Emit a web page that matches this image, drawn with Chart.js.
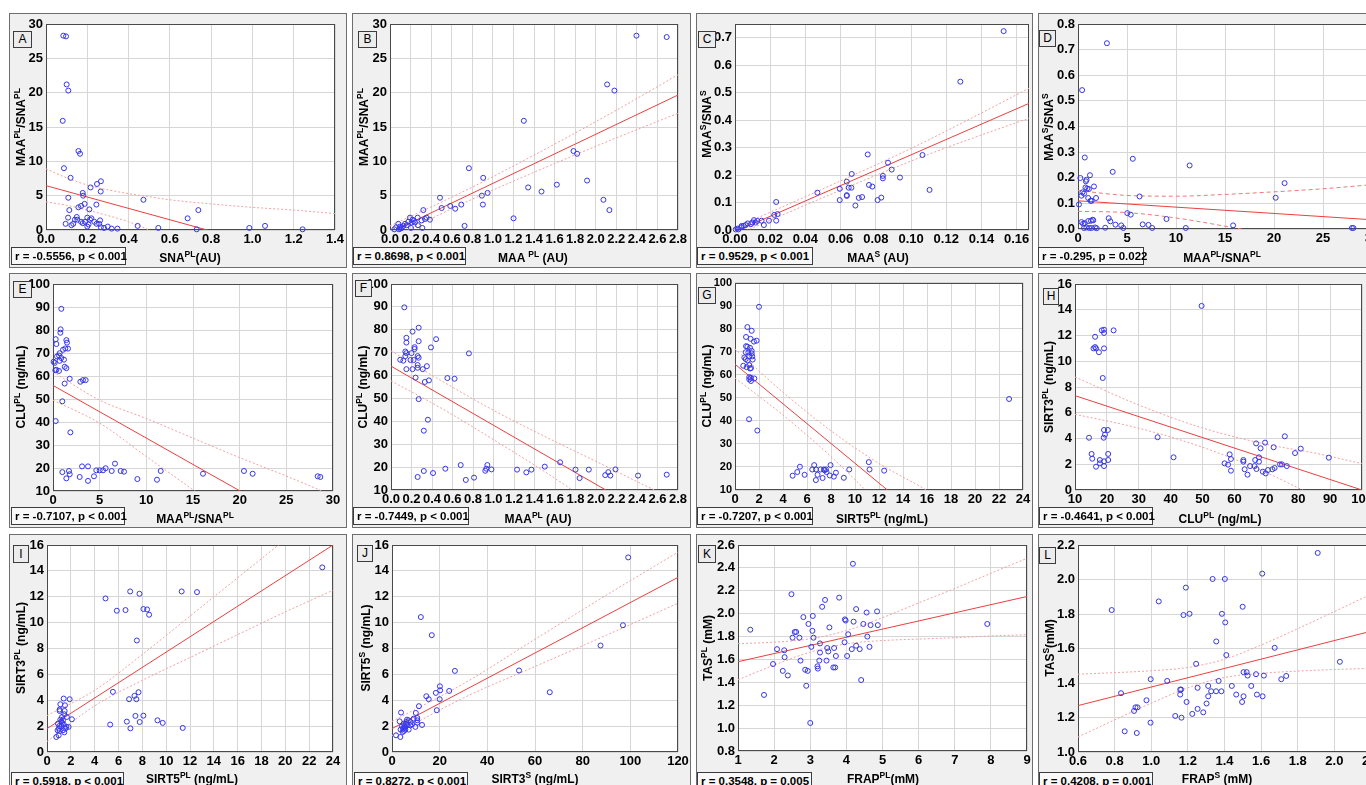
<!DOCTYPE html>
<html>
<head>
<meta charset="utf-8">
<title>Correlations</title>
<script src="https://cdn.jsdelivr.net/npm/chart.js@4.4.1/dist/chart.umd.min.js"></script>
<style>
  html, body { margin: 0; padding: 0; background: #fff; width: 1366px; height: 785px; overflow: hidden; }
  body { position: relative; font-family: "Liberation Sans", Arial, sans-serif; color: #000; }
  .panel { position: absolute; background: #f0f0f0; border: 1px solid #6e6e6e; box-sizing: border-box; }
  canvas { position: absolute; }
  .tag { position: absolute; box-sizing: border-box; border: 1px solid #3c3c3c; background: #ececec; font-size: 12px; text-align: center; }
  .rbox { position: absolute; box-sizing: border-box; height: 18px; border: 1px solid #3c3c3c; background: #f9f9f9; font-weight: bold; font-size: 11.5px; line-height: 16px; padding-left: 3px; white-space: nowrap; }
  .xt, .yt { position: absolute; font-weight: bold; font-size: 12px; line-height: 14px; white-space: nowrap; }
  .xt { transform: translateX(-50%); }
  .yt { transform: translate(-50%, -50%) rotate(-90deg); }
  sup { font-size: 8.5px; vertical-align: 0; position: relative; top: -5px; }
</style>
</head>
<body>
<script>
// ---- A: MAA/SNA (PL) vs SNA (PL)
var aX = [0.084,0.097,0.100,0.108,0.081,0.087,0.157,0.165,0.119,0.108,0.113,0.107,0.095,0.123,0.132,0.140,0.149,0.152,0.157,0.170,0.178,0.180,0.187,0.170,0.178,0.189,0.200,0.200,0.206,0.210,0.213,0.220,0.216,0.234,0.245,0.244,0.247,0.262,0.265,0.266,0.258,0.266,0.281,0.299,0.318,0.346,0.444,0.472,0.544,0.686,0.730,0.738,0.985,1.061,1.243];
var aY = [28.3,28.2,21.2,20.3,15.9,9.0,11.5,11.1,7.6,4.7,2.9,1.8,0.9,0.7,0.9,1.5,1.9,1.5,3.3,3.5,5.4,5.0,3.8,1.2,1.0,1.2,1.8,0.5,0.8,3.0,1.5,1.7,6.2,1.2,0.9,3.7,6.7,1.4,5.6,7.1,0.9,0.4,0.3,0.5,0.2,0.2,0.6,4.4,0.3,1.7,0.1,2.9,0.3,0.6,0.1];
var aFitX = [0, 1.4], aFitY = [6.46, -5.13];
var aBandX = [0,0.1,0.2,0.3,0.4,0.5,0.6,0.8,1.0,1.2,1.4];
var aUp = [8.9,7.6,6.55,5.85,5.3,4.85,4.4,3.8,3.3,2.9,2.4];
var aLo = [4.1,3.6,2.9,2.1,1.2,0.0,-1.4,-4.3,-7.3,-10.4,-13.5];
var aXTicks = ['0.0','0.2','0.4','0.6','0.8','1.0','1.2','1.4'];
var aYTicks = ['0','5','10','15','20','25','30'];

// ---- B: MAA/SNA (PL) vs MAA (PL)
var bX = [2.396,2.690,2.111,2.182,1.301,1.784,1.819,0.767,0.906,1.916,1.622,1.343,1.473,0.949,0.893,0.486,2.075,0.693,0.903,0.586,0.502,0.634,0.324,2.133,1.201,0.725,0.194,0.269,0.356,0.388,0.220,0.210,0.178,0.146,0.081,0.097,0.314,0.204,0.272,0.042,0.087,0.113,0.162,0.243,0.307,0.340,0.060,0.100,0.130,0.230];
var bY = [28.3,28.1,21.2,20.3,15.9,11.5,11.1,9.0,7.6,7.2,6.6,6.2,5.6,5.4,5.0,4.7,4.4,3.7,3.7,3.5,3.2,3.1,2.9,2.9,1.7,0.6,1.8,1.8,1.8,1.5,1.5,1.1,1.2,0.9,0.9,0.5,0.3,0.3,0.7,0.1,0.1,0.3,0.7,1.1,1.4,1.6,0.4,0.2,0.6,1.3];
var bFitX = [0, 2.8], bFitY = [-0.36, 19.66];
var bBandX = [0,0.7,1.4,2.1,2.8];
var bUp = [0.6,5.5,10.9,16.6,22.6];
var bLo = [-1.3,3.8,8.4,12.8,17.0];
var bXTicks = ['0.0','0.2','0.4','0.6','0.8','1.0','1.2','1.4','1.6','1.8','2.0','2.2','2.4','2.6','2.8'];
var bYTicks = ['0','5','10','15','20','25','30'];

// ---- C: MAA/SNA (S) vs MAA (S)
var cX = [0.1526,0.128,0.0754,0.1065,0.0869,0.0663,0.089,0.084,0.084,0.0937,0.0635,0.0761,0.078,0.0661,0.0646,0.0595,0.0468,0.0635,0.0635,0.0722,0.0703,0.0831,0.081,0.0595,0.0684,0.1105,0.0234,0.0242,0.0223,0.0234,0.0193,0.0151,0.0164,0.0127,0.0108,0.0098,0.0072,0.006,0.0049,0.0034,0.0038,0.0013,0.0004,0.0019,0.009,0.0117];
var cY = [0.724,0.540,0.275,0.273,0.245,0.204,0.220,0.197,0.188,0.191,0.176,0.164,0.158,0.154,0.154,0.150,0.136,0.127,0.124,0.120,0.117,0.118,0.109,0.109,0.089,0.146,0.102,0.058,0.055,0.034,0.034,0.034,0.018,0.033,0.036,0.027,0.024,0.018,0.015,0.010,0.015,0.005,0.002,0.002,0.021,0.027];
var cFitX = [0, 0.167], cFitY = [-0.006, 0.461];
var cBandX = [0,0.05,0.1,0.13,0.167];
var cUp = [0.008,0.150,0.297,0.393,0.516];
var cLo = [-0.02,0.118,0.251,0.323,0.407];
var cXTicks = ['0.00','0.02','0.04','0.06','0.08','0.10','0.12','0.14','0.16'];
var cYTicks = ['0.0','0.1','0.2','0.3','0.4','0.5','0.6','0.7'];

// ---- D: MAA/SNA (S) vs MAA/SNA (PL)
var dX = [2.95,0.42,0.69,5.59,11.39,3.54,21.08,1.22,0.24,0.87,0.80,1.63,0.76,0.94,1.11,0.45,0.62,0.35,1.04,1.84,1.28,1.39,6.28,20.17,0.10,5.03,5.38,3.13,3.30,9.03,0.35,0.52,0.69,1.04,1.32,1.49,1.56,4.41,3.82,6.60,7.19,15.83,0.87,1.15,1.39,1.74,1.91,2.78,4.62,7.57,11.0,27.95,28.1,0.62];
var dY = [0.725,0.542,0.279,0.274,0.248,0.223,0.179,0.210,0.199,0.192,0.186,0.166,0.162,0.158,0.156,0.143,0.138,0.130,0.121,0.121,0.110,0.110,0.127,0.122,0.096,0.062,0.056,0.042,0.030,0.039,0.027,0.021,0.023,0.031,0.032,0.036,0.034,0.014,0.017,0.018,0.016,0.014,0.006,0.004,0.004,0.006,0.003,0.005,0.004,0.004,0.004,0.004,0.004,0.004];
var dFitX = [0, 30], dFitY = [0.110, 0.036];
var dBandX = [0,5,10,15,20,25,30];
var dUp = [0.150,0.131,0.128,0.135,0.145,0.157,0.173];
var dLo = [0.069,0.064,0.043,0.011,-0.024,-0.060,-0.100];
var dXTicks = ['0','5','10','15','20','25','30'];
var dYTicks = ['0.0','0.1','0.2','0.3','0.4','0.5','0.6','0.7','0.8'];

// ---- E: CLU (PL) vs MAA/SNA (PL)
var eX = [0.89,0.82,0.79,0.29,0.36,1.43,1.5,1.32,1.61,1.07,0.71,0.64,0.43,0.89,1.18,0.71,0.07,0.18,1.25,1.43,0.36,0.64,0.25,1.79,3.21,3.5,2.93,1.25,1.0,0.29,1.86,6.64,3.11,3.75,5.64,4.64,5.0,5.36,6.29,7.25,7.61,11.54,1.71,1.0,1.79,1.43,2.86,4.39,3.75,9.04,11.14,16.07,20.46,21.39,28.36,28.64];
var eY = [89.2,80.3,78.8,76.0,73.9,75.6,74.5,72.0,71.9,71.4,69.9,68.9,68.5,67.8,67.1,66.6,66.2,65.7,64.0,63.4,62.7,62.2,62.5,58.8,58.2,58.2,57.5,56.7,49.0,40.4,35.5,21.9,20.7,20.7,19.9,19.0,19.0,19.0,18.7,18.7,18.4,18.7,18.7,18.2,17.3,15.5,16.1,16.4,14.4,15.2,14.9,17.5,18.7,17.5,16.4,16.1];
var eFitX = [0, 30], eFitY = [55.9, -12.8];
var eBandX = [0,5,10,15,20,25,30];
var eUp = [61.8,49.5,41.5,33,24.5,16.5,8];
var eLo = [49.5,39.5,25,10.5,-4.5,-19,-33];
var eXTicks = ['0','5','10','15','20','25','30'];
var eYTicks = ['10','20','30','40','50','60','70','80','90','100'];

// ---- F: CLU (PL) vs MAA (PL)
var fX = [0.13,0.27,0.21,0.15,0.44,0.15,0.27,0.39,0.23,0.23,0.76,0.14,0.15,0.20,0.14,0.26,0.27,0.09,0.12,0.19,0.22,0.26,0.35,0.31,0.15,0.21,0.26,0.24,0.55,0.62,0.37,0.33,0.27,0.36,0.32,0.68,0.94,1.5,1.65,0.53,0.93,0.98,1.23,1.37,1.80,1.93,2.19,0.92,1.32,2.12,0.41,0.32,2.09,2.41,2.69,2.14,0.26,0.81,1.84,0.73];
var fY = [89.8,80.9,79.2,76.5,75.9,74.4,75.0,72.3,72.4,71.6,69.7,70.5,69.8,69.8,68.5,68.5,67.8,66.9,66.5,66.8,66.8,64.6,64.1,62.8,62.8,62.8,63.4,59.1,58.9,58.6,57.9,57.2,49.7,40.7,35.9,20.9,20.9,20.2,22.1,19.3,19.3,19.0,18.9,18.9,18.9,18.9,19.0,18.4,17.7,17.8,17.4,18.3,16.5,16.3,16.7,16.3,15.7,15.4,15.2,14.4];
var fFitX = [0, 2.8], fFitY = [64.1, -8.2];
var fBandX = [0,0.5,1.0,1.5,2.0,2.5,2.8];
var fUp = [70.8,57.5,44.8,33.4,22.5,11.5,5];
var fLo = [57.7,45.5,32.0,18,3,-12,-21];
var fXTicks = ['0.0','0.2','0.4','0.6','0.8','1.0','1.2','1.4','1.6','1.8','2.0','2.2','2.4','2.6','2.8'];
var fYTicks = ['10','20','30','40','50','60','70','80','90','100'];

// ---- G: CLU (PL) vs SIRT5 (PL)
var gX = [2.0,1.03,1.39,0.92,1.30,1.80,1.58,0.92,1.03,1.25,1.39,0.89,1.11,1.39,1.19,0.78,1.44,0.89,1.47,1.05,0.69,1.19,0.97,1.33,1.25,1.19,1.33,1.61,1.19,1.33,22.84,1.17,1.86,11.15,11.21,12.43,5.41,6.6,7.96,5.19,4.8,5.8,6.44,6.75,7.13,7.41,7.58,7.46,6.88,6.74,7.3,7.63,7.9,8.24,8.41,9.07,9.52];
var gY = [89.5,80.7,79.1,76.4,75.6,74.8,74.4,72.4,72.2,71.7,70.4,69.8,69.7,69.3,68.1,67.5,68.0,66.8,66.6,66.2,63.9,64.2,63.3,62.9,62.7,59.0,58.7,58.4,58.0,57.3,49.5,40.7,35.8,22.1,18.9,18.4,20.1,20.8,20.8,17.8,16.2,16.6,18.9,18.9,18.9,18.9,18.9,18.6,16.6,14.3,15.2,17.8,16.3,15.8,17.5,15.3,18.9];
var gFitX = [0, 24], gFitY = [64.6, -38.6];
var gBandX = [0,4,8,12,16,20,24];
var gUp = [71.2,52.4,35.7,21.5,9.8,-4,-17.6];
var gLo = [58.6,42.5,24.5,4,-18,-39,-60];
var gXTicks = ['0','2','4','6','8','10','12','14','16','18','20','22','24'];
var gYTicks = ['10','20','30','40','50','60','70','80','90','100'];

// ---- H: SIRT3 (PL) vs CLU (PL)
var hX = [49.7,22.1,19.1,18.4,19.1,16.3,15.8,16.3,16.6,19.1,17.5,18.7,14.4,20.3,19.1,19.4,19.0,35.9,40.9,15.2,15.4,20.4,20.4,17.8,17.8,19.1,16.6,19.1,56.9,58.0,58.5,58.9,58.9,62.8,62.8,63.2,64.1,64.9,66.5,66.8,66.3,66.9,67.7,67.7,68.2,68.9,69.6,69.8,70.5,71.9,72.6,72.3,74.3,74.9,75.8,76.4,79.0,80.8,89.6];
var hY = [14.3,12.4,12.45,12.4,12.2,11.9,11.0,11.1,11.0,11.0,10.7,8.7,4.06,4.66,4.66,4.3,4.06,4.1,2.54,2.8,2.43,2.8,2.33,2.33,2.07,2.23,1.81,1.86,2.07,1.97,2.77,2.41,1.50,2.33,2.2,1.61,1.19,1.86,2.33,3.62,1.86,1.63,2.54,2.2,3.24,1.42,3.68,1.29,1.55,1.61,1.71,3.32,1.99,1.99,4.17,1.86,2.87,3.21,2.51];
var hFitX = [10, 100], hFitY = [7.33, 0.0];
var hBandX = [10,30,50,70,85,100];
var hUp = [8.78,6.6,4.82,3.55,2.88,2.05];
var hLo = [5.88,4.8,3.32,1.35,-0.43,-2.05];
var hXTicks = ['10','20','30','40','50','60','70','80','90','100'];
var hYTicks = ['0','2','4','6','8','10','12','14','16'];

// ---- I: SIRT3 (PL) vs SIRT5 (PL)
var iX = [23.1,4.91,6.98,7.76,11.3,12.59,5.86,6.59,8.09,8.4,8.57,7.54,5.53,7.68,7.34,6.89,7.5,5.3,6.7,7.42,8.09,7.78,7.0,9.27,9.71,11.39,0.78,0.98,0.92,1.12,1.2,1.06,1.0,1.26,1.06,1.12,1.06,1.4,1.51,1.48,1.45,1.67,1.9,2.09,1.81,1.62,1.4,1.45,1.34,1.26,1.2,1.03,1.54,1.34,0.89];
var iY = [14.27,11.87,12.41,12.23,12.41,12.36,10.92,10.97,11.05,11.02,10.61,8.62,4.65,4.62,4.34,4.08,4.08,2.12,2.35,2.79,2.81,2.32,1.83,2.45,2.25,1.86,1.16,1.29,2.19,2.5,2.37,1.63,1.81,2.71,3.28,3.69,3.17,4.13,3.61,3.17,2.92,2.71,4.08,2.53,1.94,1.94,2.14,1.52,1.68,2.25,1.99,2.01,1.81,2.45,1.68];
var iFitX = [0, 24], iFitY = [1.81, 16.0];
var iBandX = [0,4,8,12,16,20,24];
var iUp = [2.81,4.77,7.54,10.5,13.47,16.43,19.5];
var iLo = [0.81,3.57,5.54,7.3,9.07,10.83,12.5];
var iXTicks = ['0','2','4','6','8','10','12','14','16','18','20','22','24'];
var iYTicks = ['0','2','4','6','8','10','12','14','16'];

// ---- J: SIRT5 (S) vs SIRT3 (S)
var jX = [99.1,96.9,87.5,53.3,66.2,26.4,12.1,16.7,24.0,20.1,20.2,18.4,14.4,15.4,20.0,11.3,18.8,10.0,3.8,3.2,10.6,10.6,10.6,12.6,3.6,1.7,3.5,9.1,7.0,7.8,8.4,6.3,4.9,5.3,5.6,5.9,6.3,4.6,5.0,7.0,4.2,5.6,6.0,7.7,4.5,9.8];
var jY = [15.04,9.8,8.23,6.3,4.62,6.27,10.43,9.03,4.72,5.08,4.77,4.57,4.31,4.08,4.08,3.54,3.23,3.02,3.05,2.37,2.63,2.45,2.27,2.09,1.73,1.29,1.16,2.58,2.45,2.32,2.14,2.5,2.19,1.99,1.88,2.14,2.06,1.81,1.63,1.73,1.99,1.73,2.32,2.06,1.55,1.94];
var jFitX = [0, 120], jFitY = [1.81, 13.5];
var jBandX = [0,30,60,90,120];
var jUp = [2.36,5.28,8.71,12.13,15.45];
var jLo = [1.26,4.18,6.61,9.03,11.5];
var jXTicks = ['0','20','40','60','80','100','120'];
var jYTicks = ['0','2','4','6','8','10','12','14','16'];

// ---- K: TAS (PL) vs FRAP (PL)
var kX = [4.18,2.48,3.80,3.41,3.33,4.27,4.85,4.56,2.81,3.07,3.96,3.98,4.20,2.95,4.47,4.87,4.67,7.90,1.34,3.53,3.06,2.57,2.61,4.05,4.58,2.51,2.70,3.09,3.95,3.27,4.27,4.64,3.03,2.08,2.28,3.66,3.47,4.15,4.37,3.50,3.27,3.71,4.02,2.29,2.73,3.25,3.45,1.97,3.20,3.64,3.69,3.21,2.86,2.93,2.24,2.38,4.41,2.89,1.72,3.0];
var kY = [2.436,2.17,2.14,2.12,2.06,2.04,2.02,2.01,1.97,1.98,1.95,1.94,1.93,1.91,1.91,1.90,1.90,1.91,1.86,1.88,1.85,1.84,1.84,1.82,1.80,1.79,1.79,1.79,1.75,1.74,1.72,1.71,1.71,1.69,1.68,1.70,1.70,1.69,1.69,1.67,1.66,1.63,1.63,1.62,1.59,1.59,1.59,1.56,1.54,1.53,1.53,1.52,1.51,1.50,1.50,1.46,1.42,1.37,1.29,1.045];
var kFitX = [1, 9], kFitY = [1.58, 2.15];
var kBandX = [1,2,3,4,5,6,7,8,9];
var kUp = [1.738,1.751,1.78,1.852,1.965,2.094,2.22,2.353,2.484];
var kLo = [1.422,1.551,1.664,1.736,1.765,1.778,1.79,1.805,1.816];
var kXTicks = ['1','2','3','4','5','6','7','8','9'];
var kYTicks = ['0.8','1.0','1.2','1.4','1.6','1.8','2.0','2.2','2.4','2.6'];

// ---- L: TAS (S) vs FRAP (S)
var lX = [1.909,1.606,1.335,1.402,1.189,1.041,0.784,1.499,1.386,1.209,1.176,1.404,1.355,1.674,1.41,1.245,2.03,1.504,1.521,1.572,1.526,1.615,1.737,1.71,0.997,1.087,1.368,1.311,1.44,1.546,1.158,1.163,1.253,1.327,1.354,1.383,1.158,1.464,1.577,0.835,1.311,1.504,1.608,0.974,1.193,1.496,1.302,0.914,0.925,0.906,1.253,1.284,1.224,1.131,1.165,0.996,0.855,0.921];
var lY = [2.154,2.034,2.003,2.003,1.953,1.873,1.823,1.842,1.801,1.801,1.794,1.751,1.641,1.604,1.562,1.511,1.523,1.463,1.463,1.451,1.443,1.443,1.441,1.422,1.422,1.412,1.412,1.383,1.383,1.383,1.362,1.362,1.372,1.352,1.352,1.352,1.333,1.333,1.333,1.341,1.323,1.323,1.323,1.300,1.290,1.290,1.281,1.259,1.259,1.238,1.250,1.230,1.221,1.209,1.199,1.170,1.120,1.110];
var lFitX = [0.6, 2.2], lFitY = [1.269, 1.70];
var lBandX = [0.6,0.8,1.0,1.2,1.4,1.6,1.8,2.0,2.2];
var lUp = [1.451,1.460,1.471,1.490,1.538,1.620,1.715,1.814,1.915];
var lLo = [1.087,1.186,1.283,1.372,1.432,1.456,1.469,1.478,1.485];
var lXTicks = ['0.6','0.8','1.0','1.2','1.4','1.6','1.8','2.0','2.2'];
var lYTicks = ['1.0','1.2','1.4','1.6','1.8','2.0','2.2'];

// panel layout (page pixels): box = grey frame, plot = white plot area
var panels = [
  { tag: 'A', box: [9, 13, 347, 268], plot: [46, 24, 335, 230], xr: [0, 1.4], yr: [0, 30],
    xs: aX, ys: aY, fx: aFitX, fy: aFitY, bx: aBandX, up: aUp, lo: aLo, xt: aXTicks, yt: aYTicks,
    xTitle: 'SNA<sup>PL</sup>(AU)', yTitle: 'MAA<sup>PL</sup>/SNA<sup>PL</sup>', xc: [190, 251], yc: [21, 127],
    r: 'r = -0.5556, p &lt; 0.001', rb: [11, 247, 115], tg: [13, 31, 19, 17] },
  { tag: 'B', box: [352, 13, 691, 268], plot: [390, 24, 678, 230], xr: [0, 2.8], yr: [0, 30],
    xs: bX, ys: bY, fx: bFitX, fy: bFitY, bx: bBandX, up: bUp, lo: bLo, xt: bXTicks, yt: bYTicks,
    xTitle: 'MAA <sup>PL</sup> (AU)', yTitle: 'MAA<sup>PL</sup>/SNA<sup>PL</sup>', xc: [533, 251], yc: [364, 127],
    r: 'r = 0.8698, p &lt; 0.001', rb: [353, 247, 113], tg: [358, 31, 19, 17] },
  { tag: 'C', box: [696, 13, 1033, 268], plot: [735, 24, 1029, 230], xr: [0, 0.167], yr: [0, 0.75],
    xs: cX, ys: cY, fx: cFitX, fy: cFitY, bx: cBandX, up: cUp, lo: cLo, xt: cXTicks, yt: cYTicks,
    xTitle: 'MAA<sup>S</sup> (AU)', yTitle: 'MAA<sup>S</sup>/SNA<sup>S</sup>', xc: [878, 251], yc: [707, 124],
    r: 'r = 0.9529, p &lt; 0.001', rb: [697, 247, 116], tg: [698, 31, 18, 17] },
  { tag: 'D', box: [1038, 13, 1400, 268], plot: [1078, 24, 1372, 229], xr: [0, 30], yr: [0, 0.8],
    xs: dX, ys: dY, fx: dFitX, fy: dFitY, bx: dBandX, up: dUp, lo: dLo, xt: dXTicks, yt: dYTicks, dash: true,
    xTitle: 'MAA<sup>PL</sup>/SNA<sup>PL</sup>', yTitle: 'MAA<sup>S</sup>/SNA<sup>S</sup>', xc: [1222, 251], yc: [1049, 127],
    r: 'r = -0.295, p = 0.022', rb: [1038, 247, 106], tg: [1039, 30, 17, 17] },
  { tag: 'E', box: [9, 273, 347, 528], plot: [53, 284, 333, 491], xr: [0, 30], yr: [10, 100],
    xs: eX, ys: eY, fx: eFitX, fy: eFitY, bx: eBandX, up: eUp, lo: eLo, xt: eXTicks, yt: eYTicks,
    xTitle: 'MAA<sup>PL</sup>/SNA<sup>PL</sup>', yTitle: 'CLU<sup>PL</sup> (ng/mL)', xc: [195, 512], yc: [21, 387],
    r: 'r = -0.7107, p &lt; 0.001', rb: [11, 507, 114], tg: [13, 281, 19, 17] },
  { tag: 'F', box: [352, 273, 691, 528], plot: [391, 284, 678, 490], xr: [0, 2.8], yr: [10, 100],
    xs: fX, ys: fY, fx: fFitX, fy: fFitY, bx: fBandX, up: fUp, lo: fLo, xt: fXTicks, yt: fYTicks,
    xTitle: 'MAA<sup>PL</sup> (AU)', yTitle: 'CLU<sup>PL</sup> (ng/mL)', xc: [538, 512], yc: [363, 387],
    r: 'r = -0.7449, p &lt; 0.001', rb: [353, 507, 116], tg: [355, 280, 17, 17] },
  { tag: 'G', box: [696, 273, 1033, 528], plot: [735, 282, 1023, 490], xr: [0, 24], yr: [10, 100], ySmall: true,
    xs: gX, ys: gY, fx: gFitX, fy: gFitY, bx: gBandX, up: gUp, lo: gLo, xt: gXTicks, yt: gYTicks,
    xTitle: 'SIRT5<sup>PL</sup> (ng/mL)', yTitle: 'CLU<sup>PL</sup> (ng/mL)', xc: [882, 512], yc: [707, 386],
    r: 'r = -0.7207, p &lt; 0.001', rb: [697, 507, 116], tg: [698, 287, 18, 17] },
  { tag: 'H', box: [1038, 273, 1400, 528], plot: [1075, 284, 1362, 490], xr: [10, 100], yr: [0, 16],
    xs: hX, ys: hY, fx: hFitX, fy: hFitY, bx: hBandX, up: hUp, lo: hLo, xt: hXTicks, yt: hYTicks,
    xTitle: 'CLU<sup>PL</sup> (ng/mL)', yTitle: 'SIRT3<sup>PL</sup> (ng/mL)', xc: [1220, 512], yc: [1049, 387],
    r: 'r = -0.4641, p &lt; 0.001', rb: [1039, 507, 114], tg: [1043, 288, 16, 17] },
  { tag: 'I', box: [9, 534, 347, 800], plot: [47, 545, 333, 752], xr: [0, 24], yr: [0, 16],
    xs: iX, ys: iY, fx: iFitX, fy: iFitY, bx: iBandX, up: iUp, lo: iLo, xt: iXTicks, yt: iYTicks,
    xTitle: 'SIRT5<sup>PL</sup> (ng/mL)', yTitle: 'SIRT3<sup>PL</sup> (ng/mL)', xc: [192, 772], yc: [21, 648],
    r: 'r = 0.5918, p &lt; 0.001', rb: [11, 772, 113], tg: [13, 545, 16, 18] },
  { tag: 'J', box: [352, 534, 691, 800], plot: [392, 545, 678, 752], xr: [0, 120], yr: [0, 16],
    xs: jX, ys: jY, fx: jFitX, fy: jFitY, bx: jBandX, up: jUp, lo: jLo, xt: jXTicks, yt: jYTicks,
    xTitle: 'SIRT3<sup>S</sup> (ng/mL)', yTitle: 'SIRT5<sup>S</sup> (ng/mL)', xc: [535, 772], yc: [366, 648],
    r: 'r = 0.8272, p &lt; 0.001', rb: [354, 772, 114], tg: [357, 545, 16, 17] },
  { tag: 'K', box: [696, 534, 1033, 800], plot: [738, 545, 1027, 751], xr: [1, 9], yr: [0.8, 2.6],
    xs: kX, ys: kY, fx: kFitX, fy: kFitY, bx: kBandX, up: kUp, lo: kLo, xt: kXTicks, yt: kYTicks,
    xTitle: 'FRAP<sup>PL</sup>(mM)', yTitle: 'TAS<sup>PL</sup> (mM)', xc: [883, 772], yc: [708, 648],
    r: 'r = 0.3548, p = 0.005', rb: [697, 772, 115], tg: [698, 545, 18, 18] },
  { tag: 'L', box: [1038, 534, 1400, 800], plot: [1078, 545, 1371, 752], xr: [0.6, 2.2], yr: [1.0, 2.2],
    xs: lX, ys: lY, fx: lFitX, fy: lFitY, bx: lBandX, up: lUp, lo: lLo, xt: lXTicks, yt: lYTicks,
    xTitle: 'FRAP<sup>S</sup> (mM)', yTitle: 'TAS<sup>S</sup>(mM)', xc: [1217, 772], yc: [1050, 648],
    r: 'r = 0.4208, p = 0.001', rb: [1039, 772, 114], tg: [1039, 547, 17, 17] }
];

var FONT = '"Liberation Sans", Arial, sans-serif';

// white plot area + dark frame
var framePlugin = {
  id: 'frame',
  beforeDraw: function (chart) {
    var a = chart.chartArea, c = chart.ctx;
    c.save();
    c.fillStyle = '#ffffff';
    c.fillRect(a.left, a.top, a.right - a.left, a.bottom - a.top);
    c.restore();
  },
  beforeDatasetsDraw: function (chart) {
    var a = chart.chartArea, c = chart.ctx;
    c.save();
    c.strokeStyle = '#4a4a4a';
    c.lineWidth = 1;
    c.strokeRect(Math.round(a.left) + 0.5, Math.round(a.top) + 0.5,
                 Math.round(a.right - a.left) - 1, Math.round(a.bottom - a.top) - 1);
    c.restore();
  }
};

function pts(xs, ys) {
  var out = [];
  for (var i = 0; i < xs.length; i++) out.push({ x: xs[i], y: ys[i] });
  return out;
}

function addDiv(cls, html, css) {
  var d = document.createElement('div');
  d.className = cls;
  if (html) d.innerHTML = html;
  Object.keys(css).forEach(function (k) { d.style[k] = css[k]; });
  document.body.appendChild(d);
  return d;
}

function lineSet(xs, ys, color, dash) {
  return {
    data: pts(xs, ys),
    showLine: true,
    pointRadius: 0,
    borderColor: color,
    backgroundColor: color,
    borderWidth: 1,
    borderDash: dash || [],
    fill: false,
    cubicInterpolationMode: 'monotone',
    capBezierPoints: false
  };
}

function makePanel(p) {
  var c0 = p.box[0], t0 = p.box[1], c1 = p.box[2] + 20, b1 = p.box[3];
  var cv = document.createElement('canvas');
  cv.width = c1 - c0;
  cv.height = b1 - t0;
  cv.style.left = c0 + 'px';
  cv.style.top = t0 + 'px';
  document.body.appendChild(cv);

  var yW = p.plot[0] - c0;
  var xH = b1 - p.plot[3];
  var bandDash = p.dash ? [4, 3] : [2, 2];
  var bandColor = p.dash ? '#ee7a7a' : '#f3a2a2';

  new Chart(cv.getContext('2d'), {
    type: 'scatter',
    data: {
      datasets: [
        {
          data: pts(p.xs, p.ys),
          pointStyle: 'circle',
          pointRadius: 2.5,
          borderWidth: 1,
          borderColor: 'rgb(55,55,235)',
          backgroundColor: 'rgba(0,0,0,0)',
          clip: false
        },
        lineSet(p.fx, p.fy, '#ec3f3f'),
        lineSet(p.bx, p.up, bandColor, bandDash),
        lineSet(p.bx, p.lo, bandColor, bandDash)
      ]
    },
    options: {
      responsive: false,
      animation: false,
      events: [],
      layout: { padding: { top: p.plot[1] - t0, right: c1 - p.plot[2], left: 0, bottom: 0 } },
      plugins: { legend: { display: false }, tooltip: { enabled: false } },
      scales: {
        x: {
          type: 'linear',
          min: p.xr[0],
          max: p.xr[1],
          border: { display: false },
          grid: { color: '#d6d6d6', lineWidth: 1, drawTicks: false },
          ticks: {
            color: '#000',
            padding: 2,
            maxRotation: 0,
            autoSkip: false,
            font: { family: FONT, size: 13, weight: 'bold' },
            callback: function (v, i) { return p.xt[i]; }
          },
          afterBuildTicks: function (s) { s.ticks = p.xt.map(function (t) { return { value: parseFloat(t) }; }); },
          afterFit: function (s) { s.height = xH; }
        },
        y: {
          type: 'linear',
          min: p.yr[0],
          max: p.yr[1],
          border: { display: false },
          grid: { color: '#d6d6d6', lineWidth: 1, drawTicks: false },
          ticks: {
            color: '#000',
            padding: 3,
            autoSkip: false,
            font: { family: FONT, size: p.ySmall ? 11 : 13, weight: 'bold' },
            callback: function (v, i) { return p.yt[i]; }
          },
          afterBuildTicks: function (s) { s.ticks = p.yt.map(function (t) { return { value: parseFloat(t) }; }); },
          afterFit: function (s) { s.width = yW; }
        }
      }
    },
    plugins: [framePlugin]
  });
}

// grey frames first, then the charts, then the text overlays
panels.forEach(function (p) {
  addDiv('panel', '', {
    left: p.box[0] + 'px', top: p.box[1] + 'px',
    width: (p.box[2] - p.box[0]) + 'px', height: (p.box[3] - p.box[1]) + 'px'
  });
});
panels.forEach(makePanel);
panels.forEach(function (p) {
  addDiv('tag', p.tag, {
    left: p.tg[0] + 'px', top: p.tg[1] + 'px',
    width: p.tg[2] + 'px', height: p.tg[3] + 'px', lineHeight: (p.tg[3] - 2) + 'px'
  });
  addDiv('rbox', p.r, { left: p.rb[0] + 'px', top: p.rb[1] + 'px', width: p.rb[2] + 'px' });
  addDiv('xt', p.xTitle, { left: p.xc[0] + 'px', top: p.xc[1] + 'px' });
  addDiv('yt', p.yTitle, { left: p.yc[0] + 'px', top: p.yc[1] + 'px' });
});
</script>
</body>
</html>
